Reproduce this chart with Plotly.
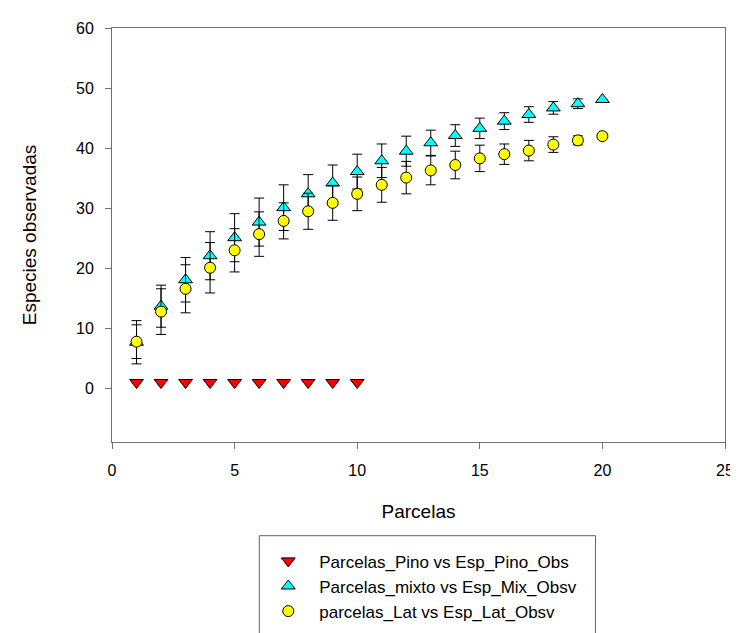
import plotly.graph_objects as go

# ---- data ----
pino_x = [1, 2, 3, 4, 5, 6, 7, 8, 9, 10]
pino_y = [1, 1, 1, 1, 1, 1, 1, 1, 1, 1]

mix_x = list(range(1, 21))
mix_y = [7.7, 13.7, 18.1, 22.1, 25.1, 27.7, 30.1, 32.4, 34.2, 36.1,
         37.9, 39.5, 40.9, 42.1, 43.3, 44.5, 45.6, 46.7, 47.4, 48.1]
mix_err = [3.6, 3.5, 3.7, 4.0, 4.0, 4.0, 3.8, 3.2, 3.0, 2.9,
           2.8, 2.5, 2.1, 1.8, 1.7, 1.4, 1.3, 1.05, 0.8, 0]

lat_x = list(range(1, 21))
lat_y = [7.8, 12.8, 16.6, 20.1, 23.0, 25.7, 27.9, 29.5, 30.9, 32.4,
         33.9, 35.1, 36.3, 37.2, 38.3, 39.0, 39.6, 40.6, 41.3, 42.0]
lat_err = [2.8, 3.8, 4.0, 4.2, 3.6, 3.7, 3.0, 3.0, 2.9, 2.8,
           2.9, 2.7, 2.4, 2.3, 2.2, 1.7, 1.7, 1.3, 0.75, 0]

names = ["Parcelas_Pino vs Esp_Pino_Obs",
         "Parcelas_mixto vs Esp_Mix_Obsv",
         "parcelas_Lat vs Esp_Lat_Obsv"]

x_ticks = [0, 5, 10, 15, 20, 25]
y_ticks = [0, 10, 20, 30, 40, 50, 60]

FONT = "Arial, Liberation Sans, sans-serif"
err_style = dict(type="data", symmetric=True, color="black", thickness=1, width=5)

fig = go.Figure()
fig.add_trace(go.Scatter(
    x=pino_x, y=pino_y, mode="markers", name=names[0],
    marker=dict(symbol="triangle-down", size=12, color="#FF0000",
                line=dict(color="black", width=1))))
fig.add_trace(go.Scatter(
    x=mix_x, y=mix_y, mode="markers", name=names[1],
    error_y=dict(array=mix_err, **err_style),
    marker=dict(symbol="triangle-up", size=12, color="#00FFFF",
                line=dict(color="black", width=1))))
fig.add_trace(go.Scatter(
    x=lat_x, y=lat_y, mode="markers", name=names[2],
    error_y=dict(array=lat_err, **err_style),
    marker=dict(symbol="circle", size=11, color="#FFFF00",
                line=dict(color="black", width=1))))

axis_common = dict(showgrid=False, zeroline=False, showline=True, mirror=True,
                   linecolor="#707070", linewidth=1, ticks="outside", ticklen=6,
                   tickcolor="#707070", tickfont=dict(family=FONT, size=16, color="black"))

fig.update_xaxes(range=[0, 25], tickvals=x_ticks, ticklabelstandoff=8,
                 title=dict(text="Parcelas", font=dict(family=FONT, size=19, color="black"),
                            standoff=26),
                 **axis_common)
fig.update_yaxes(range=[-8.9, 60], tickvals=y_ticks, ticklabelstandoff=8,
                 title=dict(text="Especies observadas", font=dict(family=FONT, size=19, color="black"),
                            standoff=34),
                 **axis_common)

# legend frame (extends past the bottom edge as in the reference)
fig.add_shape(type="rect", xref="paper", yref="paper",
              x0=0.2403, x1=0.7887, y0=-0.6, y1=-0.2263,
              line=dict(color="#606060", width=1), fillcolor="rgba(0,0,0,0)")

fig.update_layout(
    width=738, height=633,
    margin=dict(l=104, r=14, t=15, b=185),
    paper_bgcolor="white", plot_bgcolor="white",
    font=dict(family=FONT, size=16, color="black"),
    showlegend=True,
    legend=dict(x=0.237, y=-0.2448, xanchor="left", yanchor="top",
                bgcolor="rgba(0,0,0,0)", borderwidth=0, itemwidth=52,
                font=dict(family=FONT, size=17, color="black"),
                tracegroupgap=0),
)

fig.write_html("out.html")
